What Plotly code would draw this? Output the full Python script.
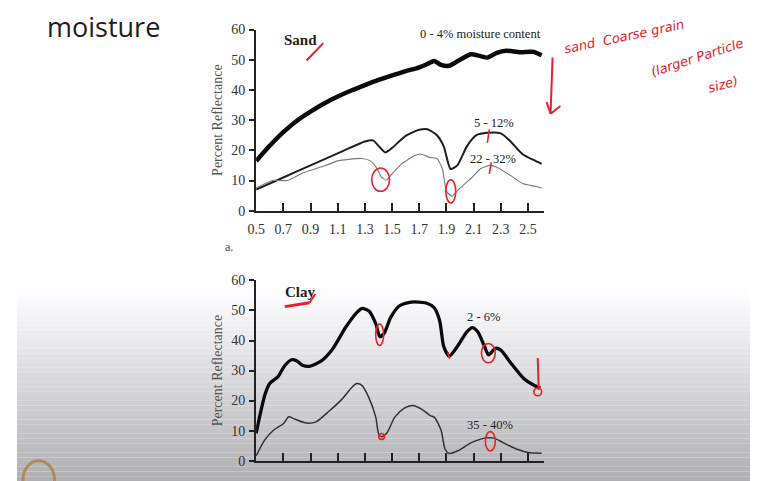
import plotly.graph_objects as go

W, H = 758, 481
OX, OY = 8, 8  # page offset of the figure in the browser

# ---------------- data ----------------
tick_vals = [0.5, 0.7, 0.9, 1.1, 1.3, 1.5, 1.7, 1.9, 2.1, 2.3, 2.5]
tick_text = ["0.5", "0.7", "0.9", "1.1", "1.3", "1.5", "1.7", "1.9", "2.1", "2.3", "2.5"]
y_ticks = [0, 10, 20, 30, 40, 50, 60]

# Sand
sand_dry_x = [0.5, 0.6, 0.7, 0.8, 0.9, 1.0, 1.1, 1.2, 1.3, 1.4, 1.5, 1.6, 1.7, 1.76, 1.81, 1.86,
              1.92, 1.97, 2.02, 2.08, 2.15, 2.2, 2.27, 2.34, 2.44, 2.54, 2.6]
sand_dry_y = [16.5, 21.5, 26, 29.8, 32.8, 35.5, 37.8, 39.8, 41.6, 43.3, 44.8, 46.2, 47.5, 48.6, 49.6, 48.3,
              48, 49.2, 50.5, 51.8, 51.2, 50.7, 52.3, 53, 52.5, 52.6, 51.5]

sand_mid_x = [0.5, 0.7, 0.9, 1.1, 1.3, 1.36, 1.41, 1.45, 1.5, 1.6, 1.7, 1.76, 1.83, 1.88, 1.93, 1.98,
              2.05, 2.12, 2.2, 2.3, 2.37, 2.46, 2.54, 2.6]
sand_mid_y = [7, 11, 15, 19, 22.9, 23.3, 21, 19.3, 20.8, 24.8, 26.8, 27, 25, 21.3, 13.8, 15,
              21.3, 25, 25.8, 25.6, 23, 18.7, 16.8, 15.5]

sand_wet_x = [0.5, 0.62, 0.73, 0.86, 1.0, 1.1, 1.18, 1.28, 1.34, 1.39, 1.42, 1.46, 1.49, 1.57, 1.66,
              1.71, 1.78, 1.83, 1.87, 1.9, 1.94, 2.0, 2.08, 2.15, 2.22, 2.27, 2.37, 2.46, 2.56, 2.6]
sand_wet_y = [7.5, 10, 10, 12.8, 14.8, 16.5, 17, 17.3, 16.5, 13.9, 11.2, 10.1, 11.7, 15.5, 18.1,
              18.8, 17.6, 17.3, 13.9, 6.4, 4.8, 7.5, 10.7, 13.9, 15, 14.4, 11.7, 9, 8, 7.5]

# Clay
clay_dry_x = [0.5, 0.565, 0.6, 0.66, 0.71, 0.76, 0.8, 0.84, 0.89, 0.98, 1.06, 1.16, 1.24, 1.28, 1.33,
              1.38, 1.41, 1.44, 1.49, 1.55, 1.64, 1.75, 1.81, 1.85, 1.88, 1.92, 1.98, 2.05, 2.09,
              2.13, 2.18, 2.21, 2.26, 2.3, 2.37, 2.47, 2.54, 2.59]
clay_dry_y = [9.1, 22, 25.7, 27.9, 31.6, 33.6, 33.2, 31.8, 31.4, 33.2, 37, 44.5, 49.3, 50.7, 49.8,
              45.6, 41.3, 42.3, 47.7, 51.4, 52.8, 52.5, 50.9, 46.6, 38, 34.8, 38, 42.9, 44.3,
              42.9, 38, 35.2, 37.4, 36.8, 32.7, 27.3, 25.2, 24.2]

clay_wet_x = [0.5, 0.565, 0.63, 0.7, 0.74, 0.78, 0.87, 0.94, 1.04, 1.13, 1.21, 1.24, 1.28, 1.33, 1.38,
              1.4, 1.42, 1.46, 1.52, 1.59, 1.65, 1.72, 1.78, 1.81, 1.86, 1.89, 1.92, 1.98, 2.08,
              2.18, 2.25, 2.32, 2.42, 2.5, 2.6]
clay_wet_y = [1.6, 7, 10.2, 12.3, 14.6, 13.9, 12.5, 12.9, 16.6, 20.4, 24.7, 25.7, 25, 20.9, 14.5,
              9.1, 8, 9.1, 14.5, 17.5, 18.4, 17.1, 15, 14.5, 10.2, 3.8, 2.4, 3.2, 5.9,
              7.5, 7.5, 5.9, 3.8, 2.7, 2.5]


def px(x, y):
    """reference-screen pixel -> paper coordinates"""
    return (x - OX) / W, 1 - (y - OY) / H


fig = go.Figure()

fig.add_trace(go.Scatter(x=sand_dry_x, y=sand_dry_y, mode="lines", line=dict(color="#0a0a0a", width=4.5, shape="spline", smoothing=0.6), xaxis="x", yaxis="y"))
fig.add_trace(go.Scatter(x=sand_mid_x, y=sand_mid_y, mode="lines", line=dict(color="#1e1e1e", width=2, shape="spline", smoothing=0.6), xaxis="x", yaxis="y"))
fig.add_trace(go.Scatter(x=sand_wet_x, y=sand_wet_y, mode="lines", line=dict(color="#7a7a7a", width=1.1, shape="spline", smoothing=0.5), xaxis="x", yaxis="y"))

fig.add_trace(go.Scatter(x=clay_dry_x, y=clay_dry_y, mode="lines", line=dict(color="#0a0a0a", width=3.3, shape="spline", smoothing=0.7), xaxis="x2", yaxis="y2"))
fig.add_trace(go.Scatter(x=clay_wet_x, y=clay_wet_y, mode="lines", line=dict(color="#333333", width=1.5, shape="spline", smoothing=0.7), xaxis="x2", yaxis="y2"))

serif = "Liberation Serif"
tickfont = dict(family=serif, size=14, color="#333333")

xdom = [px(250, 0)[0], px(541, 0)[0]]
dom_top = [px(0, 210)[1], px(0, 23)[1]]
dom_bot = [px(0, 468)[1], px(0, 282)[1]]

common_x = dict(range=[0.5, 2.615], tickvals=tick_vals, showline=True, linecolor="#222222", linewidth=2,
                ticks="inside", ticklen=8, tickwidth=1.5, tickcolor="#222222", showgrid=False, zeroline=False,
                fixedrange=True)
common_y = dict(range=[0, 60], tickvals=y_ticks, showline=True, linecolor="#222222", linewidth=2,
                ticks="outside", ticklen=5, tickwidth=1.5, tickcolor="#222222", showgrid=False, zeroline=False,
                tickfont=tickfont, fixedrange=True, ticklabelstandoff=1,
                title=dict(text="Percent Reflectance", font=dict(family=serif, size=14, color="#555555"), standoff=5))
# companion axes so y ticks cross the axis line (inside half)
inner_y = dict(range=[0, 60], tickvals=y_ticks, showline=False, ticks="inside", ticklen=5, tickwidth=1.5,
               tickcolor="#222222", showticklabels=False, showgrid=False, zeroline=False, fixedrange=True,
               side="left")

fig.update_layout(
    width=W, height=H,
    margin=dict(l=0, r=0, t=0, b=0),
    paper_bgcolor="#fefdff",
    plot_bgcolor="rgba(0,0,0,0)",
    showlegend=False,
    xaxis=dict(domain=xdom, anchor="y", ticktext=tick_text, tickfont=tickfont, ticklabelstandoff=4, **common_x),
    yaxis=dict(domain=dom_top, anchor="x", **common_y),
    xaxis2=dict(domain=xdom, anchor="y2", showticklabels=False, **common_x),
    yaxis2=dict(domain=dom_bot, anchor="x2", **common_y),
    yaxis3=dict(overlaying="y", anchor="x", **inner_y),
    yaxis4=dict(overlaying="y2", anchor="x2", **inner_y),
)

shapes = []
# gradient background on lower part of the slide
y0g, y1g = 294, 489
n = 40
for i in range(n):
    ya = y0g + (y1g - y0g) * i / n
    yb = y0g + (y1g - y0g) * (i + 1) / n
    t = (i + 0.5) / n
    c = int(254 - 78 * t)
    x0, yy0 = px(OX, yb)
    x1, yy1 = px(W + OX, ya)
    shapes.append(dict(type="rect", xref="paper", yref="paper", layer="below",
                       x0=x0, x1=x1, y0=yy0, y1=yy1,
                       line=dict(width=0), fillcolor=f"rgb({c},{c},{c+3})"))

red = "#e8202a"


def ellipse(cx, cy, rx, ry, w=1.6):
    x0, y0 = px(cx - rx, cy + ry)
    x1, y1 = px(cx + rx, cy - ry)
    return dict(type="circle", xref="paper", yref="paper", x0=x0, y0=y0, x1=x1, y1=y1,
                line=dict(color=red, width=w))


def seg(xa, ya, xb, yb, w=1.6):
    x0, y0 = px(xa, ya)
    x1, y1 = px(xb, yb)
    return dict(type="line", xref="paper", yref="paper", x0=x0, y0=y0, x1=x1, y1=y1,
                line=dict(color=red, width=w))


shapes += [
    seg(301, 55, 318, 37, 2),
    ellipse(376, 178, 9, 12),
    ellipse(447, 190, 5, 12),
    seg(486, 126, 484, 140),
    seg(488, 160, 486, 172),
    # arrow right of top chart
    seg(550, 52, 548, 110, 2),
    seg(548, 110, 544, 98, 2),
    seg(548, 110, 558, 102, 2),
    # bottom chart
    seg(279, 309, 304, 305, 3),
    seg(304, 305, 310, 296, 2),
    ellipse(375, 338, 4, 11),
    ellipse(485, 357, 7, 10),
    seg(444, 356, 446, 363),
    ellipse(377, 443, 3, 3),
    ellipse(487, 448, 5, 10),
    seg(535, 362, 536, 395, 2),
    ellipse(535, 397, 4, 4),
]
lx0, ly0 = px(14, 508)
lx1, ly1 = px(46, 468)
shapes.append(dict(type="circle", xref="paper", yref="paper", x0=lx0, x1=lx1, y0=ly0, y1=ly1,
                   line=dict(color="#b08a5a", width=3)))
fig.update_layout(shapes=shapes)

ann = []


def text(x, y, s, size=12, bold=False, color="#222222", family=serif, xanchor="left", angle=0, italic=False):
    xx, yy = px(x, y)
    if bold:
        s = f"<b>{s}</b>"
    if italic:
        s = f"<i>{s}</i>"
    ann.append(dict(x=xx, y=yy, xref="paper", yref="paper", text=s, showarrow=False,
                    xanchor=xanchor, yanchor="middle", textangle=angle,
                    font=dict(family=family, size=size, color=color)))


text(36, 20, "moisture", size=27, family="Open Sans", color="#1e1e1e")
text(276, 34, "Sand", size=15, bold=True)
text(540, 28, "0 - 4% moisture content", size=12.5, xanchor="right")
text(491, 119, "5 - 12%", size=12.5, xanchor="center")
text(490, 157, "22 - 32%", size=12.5, xanchor="center")
text(216, 247, "a.", size=12, color="#444444")
text(277, 294, "Clay", size=15, bold=True)
text(480, 320, "2 - 6%", size=12.5, xanchor="center")
text(487, 431, "35 - 40%", size=12.5, xanchor="center")

# handwritten notes
hand = "DejaVu Sans"
text(558, 30, "sand  Coarse grain", size=13, color=red, family=hand, angle=-12, italic=True)
text(645, 52, "(larger Particle", size=13, color=red, family=hand, angle=-18, italic=True)
text(703, 80, "size)", size=13, color=red, family=hand, angle=-15, italic=True)

fig.update_layout(annotations=ann)

fig.write_html("out.html")
